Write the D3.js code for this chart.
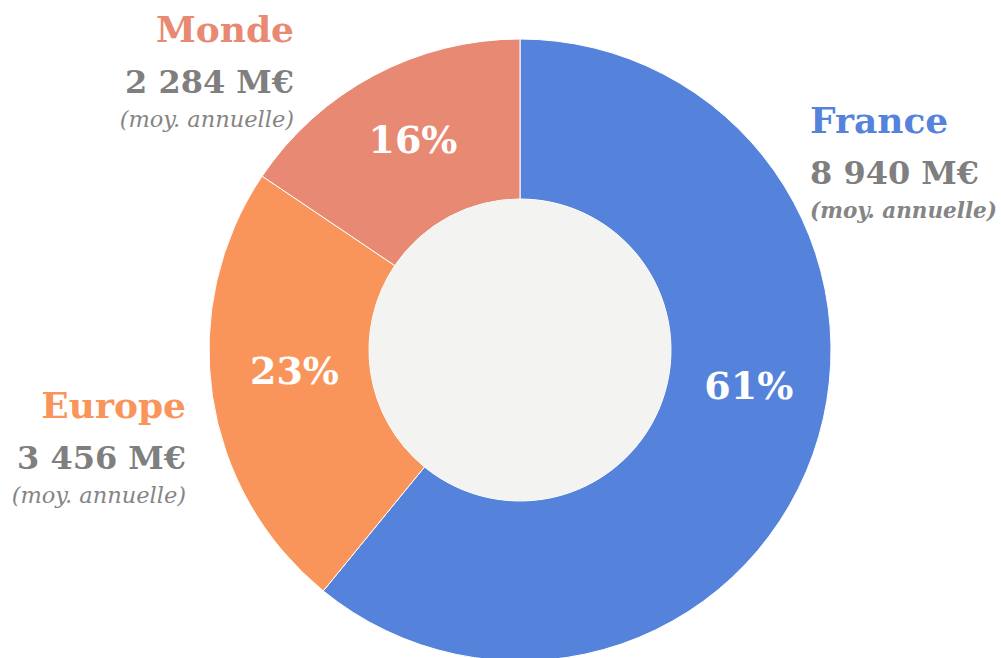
<!DOCTYPE html>
<html>
<head>
<meta charset="utf-8">
<script src="https://cdn.jsdelivr.net/npm/d3@7"></script>
<style>
  body { margin: 0; background: #fff; }
  text { font-family: "DejaVu Serif", serif; }
</style>
</head>
<body>
<div id="donut"></div>
<script>
// data
var regions = ["France", "Europe", "Monde"];
var amounts = [8940, 3456, 2284];          // M€ per year
var amountLabels = ["8 940 M€", "3 456 M€", "2 284 M€"];
var pctLabels = ["61%", "23%", "16%"];
var colors = ["#5583db", "#f9955b", "#e88a73"];

var width = 1001, height = 658;
var cx = 520, cy = 350, outerR = 311, innerR = 151;

var svg = d3.select("#donut")
  .append("svg")
  .attr("width", width)
  .attr("height", height);

var g = svg.append("g")
  .attr("transform", "translate(" + cx + "," + cy + ")");

var slices = regions.map(function(r, i) {
  return {region: r, value: amounts[i], amount: amountLabels[i], pct: pctLabels[i], color: colors[i]};
});

var pie = d3.pie().sort(null).value(function(d) { return d.value; });
var arc = d3.arc().innerRadius(innerR).outerRadius(outerR);
var labelArc = d3.arc().innerRadius(228).outerRadius(228);

var arcs = pie(slices);

g.selectAll("path.slice")
  .data(arcs)
  .enter()
  .append("path")
  .attr("class", "slice")
  .attr("d", arc)
  .attr("fill", function(d) { return d.data.color; })
  .attr("stroke", "#fff")
  .attr("stroke-width", 1);

// centre disc
g.append("circle")
  .attr("r", innerR)
  .attr("fill", "#f3f3f2");

// percentage labels (France label sits a bit higher than the centroid)
var pctNudge = {France: [14, -32], Europe: [0, -4], Monde: [0, 0]};
g.selectAll("text.pct")
  .data(arcs)
  .enter()
  .append("text")
  .attr("class", "pct")
  .attr("transform", function(d) {
    var c = labelArc.centroid(d), n = pctNudge[d.data.region];
    return "translate(" + (c[0] + n[0]) + "," + (c[1] + n[1]) + ")";
  })
  .attr("text-anchor", "middle")
  .attr("dy", "0.12em")
  .attr("fill", "#fff")
  .style("font-size", "38px")
  .style("font-weight", "bold")
  .text(function(d) { return d.data.pct; });

// outside labels
var outside = {
  France: {x: 810, y: 133, anchor: "start", subWeight: "bold", subSize: "21.5px"},
  Europe: {x: 186, y: 418, anchor: "end", subWeight: "normal", subSize: "22.5px"},
  Monde:  {x: 294, y: 42,  anchor: "end", subWeight: "normal", subSize: "22.5px"}
};

var lab = svg.selectAll("g.outlabel")
  .data(slices)
  .enter()
  .append("g")
  .attr("class", "outlabel")
  .attr("transform", function(d) {
    var o = outside[d.region];
    return "translate(" + o.x + "," + o.y + ")";
  })
  .attr("text-anchor", function(d) { return outside[d.region].anchor; });

lab.append("text")
  .attr("fill", function(d) { return d.color; })
  .style("font-size", "36px")
  .style("font-weight", "bold")
  .text(function(d) { return d.region; });

lab.append("text")
  .attr("y", 51)
  .attr("fill", "#7f7f7f")
  .style("font-size", "32px")
  .style("font-weight", "bold")
  .text(function(d) { return d.amount; });

lab.append("text")
  .attr("y", 85)
  .attr("fill", "#858585")
  .style("font-size", function(d) { return outside[d.region].subSize; })
  .style("font-style", "italic")
  .style("font-weight", function(d) { return outside[d.region].subWeight; })
  .text("(moy. annuelle)");
</script>
</body>
</html>
